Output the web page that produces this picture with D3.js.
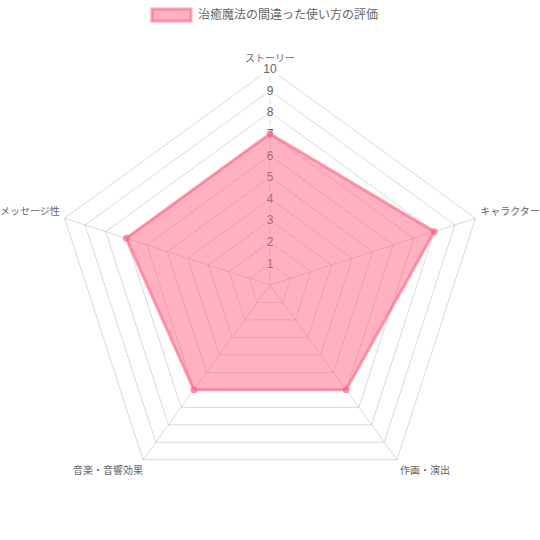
<!DOCTYPE html>
<html><head><meta charset="utf-8">
<script src="https://cdn.jsdelivr.net/npm/d3@7"></script>
<style>html,body{margin:0;padding:0;background:#fff;}svg{display:block;}</style>
</head><body>
<svg id="chart" width="540" height="540"></svg>
<script>
const categories = ["ストーリー", "キャラクター", "作画・演出", "音楽・音響効果", "メッセージ性"];
const values = [7, 8, 6, 6, 7];
const tickValues = [1, 2, 3, 4, 5, 6, 7, 8, 9, 10];
const seriesName = "治癒魔法の間違った使い方の評価";

const FONT = "'Helvetica Neue', Helvetica, Arial, 'Liberation Sans', 'Noto Sans CJK JP', sans-serif";
const svg = d3.select("#chart");
const cx = 270, cy = 285, R = 216;
const r = d3.scaleLinear().domain([0, 10]).range([0, R]);
const ang = d3.scaleLinear().domain([0, categories.length]).range([0, 2 * Math.PI]);
const pt = (i, rad) => [cx + rad * Math.sin(ang(i)), cy - rad * Math.cos(ang(i))];

const g = svg.append("g");
const gridColor = "rgba(0,0,0,0.15)";

// grid pentagons
g.selectAll("path.grid").data(tickValues).join("path")
  .attr("class", "grid")
  .attr("d", t => "M" + categories.map((c, i) => pt(i, r(t)).join(",")).join("L") + "Z")
  .attr("fill", "none").attr("stroke", gridColor).attr("stroke-width", 1);

// angle lines
g.selectAll("line.angle").data(categories).join("line")
  .attr("class", "angle")
  .attr("x1", cx).attr("y1", cy)
  .attr("x2", (d, i) => pt(i, R)[0]).attr("y2", (d, i) => pt(i, R)[1])
  .attr("stroke", gridColor).attr("stroke-width", 1);

// tick labels with backdrop
const tg = g.selectAll("g.tick").data(tickValues).join("g").attr("class", "tick")
  .attr("transform", t => `translate(${cx},${cy - r(t)})`);
tg.each(function(t) {
  const s = d3.select(this);
  const txt = s.append("text").text(t)
    .attr("text-anchor", "middle").attr("dy", "0.35em")
    .attr("font-family", FONT).attr("font-size", 12).attr("fill", "#666");
  const w = txt.node().getComputedTextLength();
  s.insert("rect", "text").attr("x", -w / 2 - 2).attr("y", -8).attr("width", w + 4).attr("height", 16)
    .attr("fill", "rgba(255,255,255,0.75)");
});

// point labels
const lbl = g.selectAll("text.plabel").data(categories).join("text").attr("class", "plabel")
  .text(d => d)
  .attr("font-family", FONT).attr("font-size", 10).attr("fill", "#666")
  .attr("dy", "0.35em")
  .attr("text-anchor", (d, i) => {
    const a = ang(i) * 180 / Math.PI;
    if (a === 0 || a === 180) return "middle";
    return a < 180 ? "start" : "end";
  })
  .attr("x", (d, i) => {
    const a = ang(i) * 180 / Math.PI;
    const p = pt(i, R + 5);
    if (a > 180 && a < 270) return p[0] + 3;
    return p[0];
  })
  .attr("y", (d, i) => {
    const a = ang(i) * 180 / Math.PI;
    const p = pt(i, R + 5);
    if (a > 90 && a < 270) return p[1] + 7;
    if (a === 0) return p[1] - 6;
    return p[1] - 5;
  });

// dataset
const line = d3.lineRadial().angle((d, i) => ang(i)).radius(d => r(d)).curve(d3.curveLinearClosed);
g.append("path").datum(values)
  .attr("transform", `translate(${cx},${cy})`)
  .attr("d", line)
  .attr("fill", "rgba(255,99,132,0.5)")
  .attr("stroke", "rgba(255,99,132,0.6)").attr("stroke-width", 3).attr("stroke-linejoin", "miter");

g.selectAll("circle.pt").data(values).join("circle").attr("class", "pt")
  .attr("cx", (d, i) => pt(i, r(d))[0]).attr("cy", (d, i) => pt(i, r(d))[1])
  .attr("r", 3)
  .attr("fill", "rgba(255,99,132,0.6)").attr("stroke", "rgba(255,99,132,0.6)").attr("stroke-width", 1);

// legend
const lg = svg.append("g").attr("transform", "translate(152,9)");
lg.append("rect").attr("x", 0).attr("y", 0).attr("width", 39).attr("height", 12)
  .attr("fill", "rgba(255,99,132,0.5)").attr("stroke", "rgba(255,99,132,0.6)").attr("stroke-width", 3);
lg.append("text").text(seriesName).attr("x", 46).attr("y", 6).attr("dy", "0.35em")
  .attr("font-family", FONT).attr("font-size", 12).attr("fill", "#666");
</script>
</body></html>
